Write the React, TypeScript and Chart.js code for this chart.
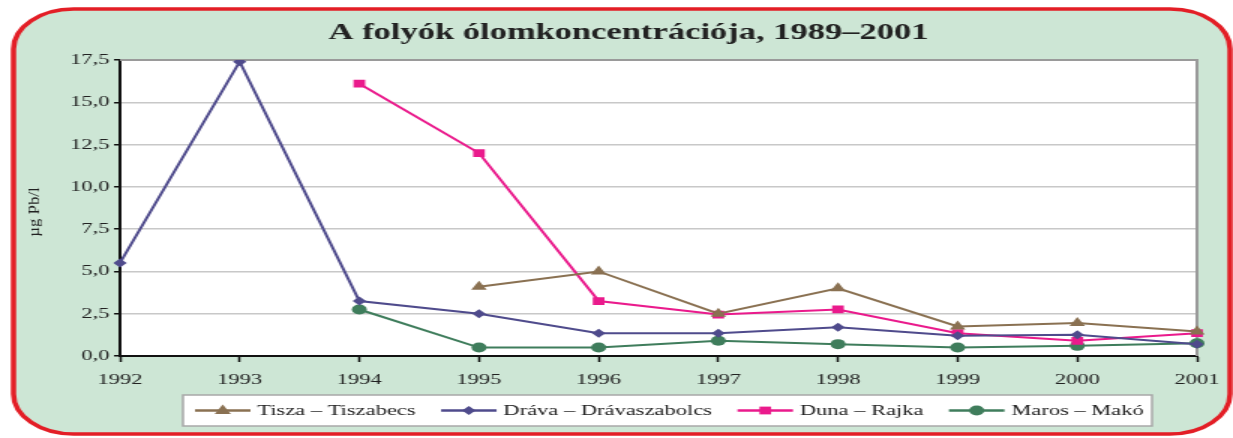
import { useEffect, useRef } from 'react';
import { Chart, registerables } from 'chart.js';

Chart.register(...registerables);

// ---- data ----
const chartTitle = 'A folyók ólomkoncentrációja, 1989–2001';
const yAxisTitle = 'µg Pb/l';
const years = ['1992', '1993', '1994', '1995', '1996', '1997', '1998', '1999', '2000', '2001'];
const seriesNames = ['Tisza – Tiszabecs', 'Dráva – Drávaszabolcs', 'Duna – Rajka', 'Maros – Makó'];
const tisza = [null, null, null, 4.1, 5.0, 2.5, 4.0, 1.75, 1.95, 1.45];
const drava = [5.5, 17.4, 3.25, 2.5, 1.35, 1.35, 1.7, 1.2, 1.25, 0.7];
const duna = [null, null, 16.1, 12.0, 3.25, 2.45, 2.75, 1.35, 0.9, 1.35];
const maros = [null, null, 2.75, 0.5, 0.5, 0.9, 0.7, 0.5, 0.6, 0.75];
const yMin = 0;
const yMax = 17.5;
const yStep = 2.5;

// ---- style ----
const SERIF = "'Liberation Serif', 'Times New Roman', serif";
const W = 822; // internal width, stretched to 1233 px on screen
const H = 438;
const colors = ['#8a7152', '#4f4b8c', '#ea1a8c', '#3f7d5c'];
const markers = ['triangle', 'rectRot', 'rect', 'circle'];
const radii = [6, 4.5, 5.5, 5];

function drawMarker(ctx: CanvasRenderingContext2D, kind: string, x: number, y: number, r: number) {
  ctx.beginPath();
  if (kind === 'triangle') {
    ctx.moveTo(x, y - r);
    ctx.lineTo(x + r * 0.9, y + r * 0.6);
    ctx.lineTo(x - r * 0.9, y + r * 0.6);
    ctx.closePath();
  } else if (kind === 'rectRot') {
    ctx.moveTo(x, y - r);
    ctx.lineTo(x + r, y);
    ctx.lineTo(x, y + r);
    ctx.lineTo(x - r, y);
    ctx.closePath();
  } else if (kind === 'rect') {
    const s = r * Math.SQRT1_2;
    ctx.rect(x - s, y - s, 2 * s, 2 * s);
  } else {
    ctx.arc(x, y, r, 0, Math.PI * 2);
  }
  ctx.fill();
}

const decorPlugin = {
  id: 'decor',
  beforeDraw(chart: any) {
    const { ctx, chartArea } = chart;
    ctx.save();
    ctx.beginPath();
    (ctx as any).roundRect(9, 9, 811, 425, 40);
    ctx.fillStyle = '#cde6d5';
    ctx.fill();
    ctx.lineWidth = 3.5;
    ctx.strokeStyle = '#e31e26';
    ctx.stroke();
    ctx.fillStyle = '#ffffff';
    ctx.fillRect(chartArea.left, chartArea.top, chartArea.right - chartArea.left, chartArea.bottom - chartArea.top);
    ctx.fillStyle = '#222';
    ctx.font = `bold 23px ${SERIF}`;
    ctx.textAlign = 'center';
    ctx.textBaseline = 'middle';
    ctx.fillText(chartTitle, 419, 33);
    ctx.save();
    ctx.translate(23, 212);
    ctx.rotate(-Math.PI / 2);
    ctx.scale(1.2, 0.75);
    ctx.font = `14px ${SERIF}`;
    ctx.fillText(yAxisTitle, 0, 0);
    ctx.restore();
    ctx.restore();
  },
  beforeDatasetsDraw(chart: any) {
    const { ctx, chartArea } = chart;
    ctx.save();
    ctx.strokeStyle = '#9a9a9a';
    ctx.lineWidth = 2;
    ctx.beginPath();
    ctx.moveTo(chartArea.left, chartArea.top);
    ctx.lineTo(chartArea.right, chartArea.top);
    ctx.lineTo(chartArea.right, chartArea.bottom);
    ctx.stroke();
    ctx.restore();
  },
  afterDraw(chart: any) {
    const { ctx } = chart;
    ctx.save();
    const bx = 122, by = 395, bw = 646, bh = 31;
    ctx.fillStyle = '#ffffff';
    ctx.fillRect(bx, by, bw, bh);
    ctx.strokeStyle = '#a8a8a8';
    ctx.lineWidth = 1.5;
    ctx.strokeRect(bx, by, bw, bh);
    ctx.font = `15px ${SERIF}`;
    ctx.textAlign = 'left';
    ctx.textBaseline = 'middle';
    const cy = by + bh / 2;
    let x = 130;
    chart.data.datasets.forEach((ds: any, i: number) => {
      ctx.strokeStyle = ds.borderColor;
      ctx.lineWidth = 2.5;
      ctx.beginPath();
      ctx.moveTo(x, cy);
      ctx.lineTo(x + 37, cy);
      ctx.stroke();
      ctx.fillStyle = ds.borderColor;
      drawMarker(ctx, markers[i], x + 18.5, cy, radii[i]);
      ctx.fillStyle = '#222';
      const tx = x + 41.5;
      ctx.fillText(ds.label, tx, cy + 1);
      x = tx + ctx.measureText(ds.label).width + 17;
    });
    ctx.restore();
  },
};

export default function App() {
  const ref = useRef<HTMLCanvasElement | null>(null);
  useEffect(() => {
    if (!ref.current) return;
    const series = [tisza, drava, duna, maros];
    const chart = new Chart(ref.current, {
      type: 'line',
      data: {
        labels: years,
        datasets: series.map((d, i) => ({
          label: seriesNames[i],
          data: d,
          borderColor: colors[i],
          backgroundColor: colors[i],
          pointBackgroundColor: colors[i],
          pointBorderColor: colors[i],
          borderWidth: 2,
          pointStyle: markers[i] as any,
          pointRadius: radii[i],
          pointBorderWidth: 0,
          tension: 0,
          fill: false,
        })),
      },
      options: {
        responsive: false,
        animation: false,
        devicePixelRatio: 1,
        layout: { padding: { left: 0, right: 18.7, top: 60, bottom: 0 } },
        plugins: {
          legend: { display: false },
          title: { display: false },
          tooltip: { enabled: false },
        },
        scales: {
          x: {
            offset: false,
            grid: { drawOnChartArea: false, tickColor: '#111', tickLength: 6, tickWidth: 1.5 },
            border: { color: '#111', width: 2 },
            ticks: { font: { family: SERIF, size: 15 }, color: '#222', padding: 9, maxRotation: 0, autoSkip: false },
            afterFit(s: any) { s.height = 82; },
          },
          y: {
            min: yMin,
            max: yMax,
            ticks: {
              stepSize: yStep,
              callback: (v: any) => Number(v).toFixed(1).replace('.', ','),
              font: { family: SERIF, size: 15 },
              color: '#222',
              padding: 3,
            },
            grid: { color: '#c8c8c8', lineWidth: 1.5, tickColor: '#111', tickLength: 4 },
            border: { color: '#111', width: 2 },
            afterFit(s: any) { s.width = 80; },
          },
        },
      },
      plugins: [decorPlugin],
    });
    return () => chart.destroy();
  }, []);
  return (
    <div style={{ position: 'fixed', left: 0, top: 0, width: 1233, height: 438 }}>
      <canvas ref={ref} width={W} height={H} style={{ width: '1233px', height: '438px', display: 'block' }} />
    </div>
  );
}
